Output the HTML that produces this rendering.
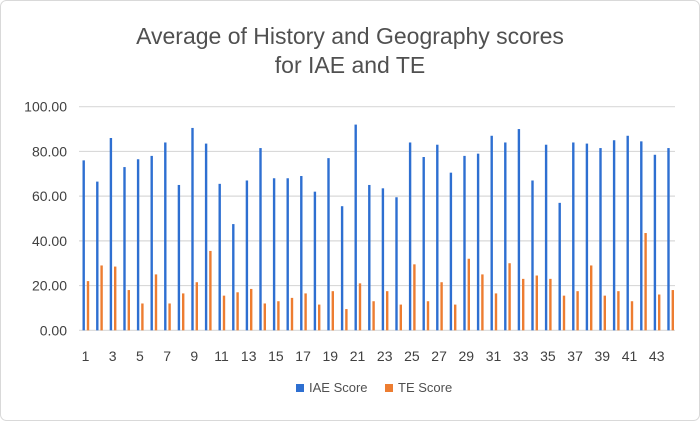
<!DOCTYPE html>
<html><head><meta charset="utf-8"><style>
html,body{margin:0;padding:0;background:#fff}
svg{display:block;font-family:"Liberation Sans",sans-serif}
</style></head><body>
<svg id="c" width="700" height="421" xmlns="http://www.w3.org/2000/svg">
<rect x="0.5" y="0.5" width="699" height="420" rx="6" fill="#fff" stroke="#d9d9d9"/>
<text x="350" y="44" text-anchor="middle" font-size="23" fill="#505050">Average of History and Geography scores</text>
<text x="350" y="73" text-anchor="middle" font-size="23" fill="#505050">for IAE and TE</text>
<g id="g"></g>
<rect x="296" y="384" width="8" height="8" fill="#2e6fd1"/>
<text x="309" y="392" font-size="13" fill="#505050">IAE Score</text>
<rect x="385" y="384" width="8" height="8" fill="#ed7d31"/>
<text x="398" y="392" font-size="13" fill="#505050">TE Score</text>
</svg>
<script>
var I=[76,66.5,86,73,76.5,78,84,65,90.5,83.5,65.5,47.5,67,81.5,68,68,69,62,77,55.5,92,65,63.5,59.5,84,77.5,83,70.5,78,79,87,84,90,67,83,57,84,83.5,81.5,85,87,84.5,78.5,81.5];
var T=[22,29,28.5,18,12,25,12,16.5,21.5,35.5,15.5,17,18.5,12,13,14.5,16.5,11.5,17.5,9.5,21,13,17.5,11.5,29.5,13,21.5,11.5,32,25,16.5,30,23,24.5,23,15.5,17.5,29,15.5,17.5,13,43.5,16,18];
var s='',y0=330.3,k=2.236;
for(var v=0;v<=100;v+=20){var y=y0-v*k;s+='<line x1="79" x2="675" y1="'+y+'" y2="'+y+'" stroke="#d9d9d9" stroke-width="1.2"/>';
s+='<text x="67" y="'+(y+5)+'" text-anchor="end" font-size="14" fill="#404040">'+v.toFixed(2)+'</text>';}
for(var i=0;i<44;i++){var x=82.5+i*13.6;
s+='<rect x="'+x+'" y="'+(y0-I[i]*k)+'" width="2.4" height="'+I[i]*k+'" fill="#2e6fd1"/>';
s+='<rect x="'+(x+4.3)+'" y="'+(y0-T[i]*k)+'" width="2.4" height="'+T[i]*k+'" fill="#ed7d31"/>';
if(i%2==0)s+='<text x="'+(x+3)+'" y="361" text-anchor="middle" font-size="14" fill="#404040">'+(i+1)+'</text>';}
document.getElementById('g').innerHTML=s;
</script>
</body></html>
